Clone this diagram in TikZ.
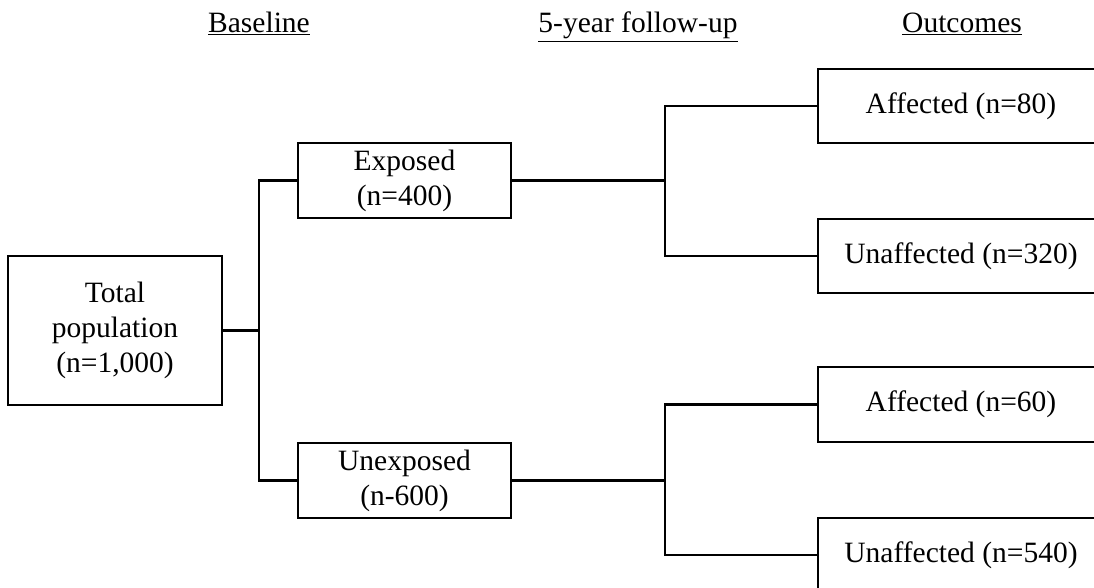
\documentclass[tikz,border=0pt]{standalone}
\usepackage{fontspec}
\setmainfont{Liberation Serif}
\begin{document}
\begin{tikzpicture}[x=1pt,y=-1pt,
  every node/.style={font=\fontsize{29.5}{35}\selectfont, inner sep=0pt},
  box/.style={draw, line width=2.3pt, rectangle, align=center},
  link/.style={line width=2.3pt},
  head/.style={anchor=base}]
\useasboundingbox (0,0) rectangle (1094,588);
% headers
\node[head] (h1) at (259,33) {\underline{Baseline}};
\node[head] (h2) at (638,33) {\underline{5-year follow-up}};
\node[head] (h3) at (962,33) {\underline{Outcomes}};
% boxes
\node[box, minimum width=214pt, minimum height=149pt] (tot) at (115,330.5) {Total\\population\\(n=1,000)};
\node[box, minimum width=213pt, minimum height=75pt] (exp) at (404.5,180.5) {Exposed\\(n=400)};
\node[box, minimum width=213pt, minimum height=75pt] (unexp) at (404.5,480.5) {Unexposed\\(n-600)};
\node[box, minimum width=286pt, minimum height=74pt] (a1) at (961,106) {Affected (n=80)};
\node[box, minimum width=286pt, minimum height=74pt] (u1) at (961,256) {Unaffected (n=320)};
\node[box, minimum width=286pt, minimum height=75pt] (a2) at (961,404.5) {Affected (n=60)};
\node[box, minimum width=286pt, minimum height=74pt] (u2) at (961,555) {Unaffected (n=540)};
% junctions
\coordinate (j1) at (259,330.5);
\coordinate (j2) at (665,180.5);
\coordinate (j3) at (665,480.5);
% connectors
\draw[link] (tot.east) -- (j1);
\draw[link] (exp.west) -| (j1) |- (unexp.west);
\draw[link] (exp.east) -- (j2);
\draw[link] (a1.west) -| (j2) |- (u1.west);
\draw[link] (unexp.east) -- (j3);
\draw[link] (a2.west) -| (j3) |- (u2.west);
\end{tikzpicture}
\end{document}
